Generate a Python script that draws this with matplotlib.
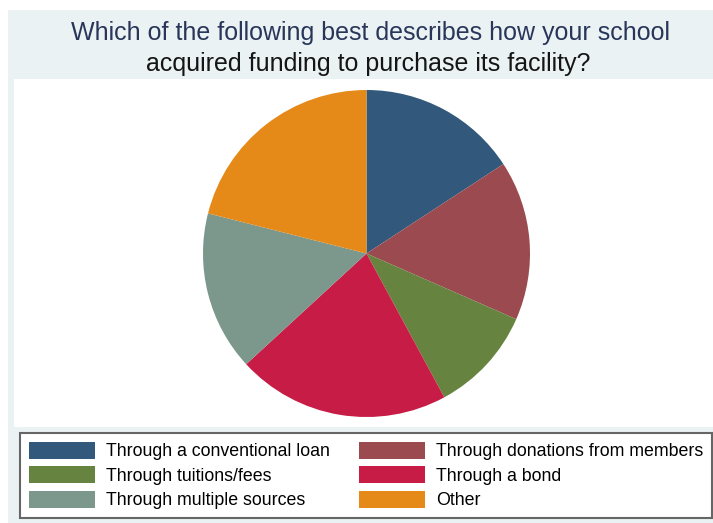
import matplotlib
matplotlib.use('Agg')
import matplotlib.pyplot as plt
from matplotlib.patches import Rectangle

plt.rcParams['font.family'] = ['Liberation Sans', 'DejaVu Sans']

# survey answers (count of schools)
labels = ['Through a conventional loan',
          'Through donations from members',
          'Through tuitions/fees',
          'Through a bond',
          'Through multiple sources',
          'Other']
counts = [3, 3, 2, 4, 3, 4]
colors = ['#32597b', '#9b4a4f', '#66843f', '#c71c45', '#7c978b', '#e58a19']

title1 = 'Which of the following best describes how your school'
title2 = 'acquired funding to purchase its facility?'

W, H = 713, 523
fig = plt.figure(figsize=(W / 100, H / 100), dpi=100, facecolor='white')


def box(x0, y0, x1, y1):
    # pixel box (top-left origin) -> figure fraction
    return x0 / W, 1 - y1 / H, (x1 - x0) / W, (y1 - y0) / H


def rect(x0, y0, x1, y1, **kw):
    l, b, w, h = box(x0, y0, x1, y1)
    fig.patches.append(Rectangle((l, b), w, h, transform=fig.transFigure, **kw))


# graph region and plot region
rect(8, 10, W, H, facecolor='#eaf2f3', edgecolor='none', zorder=0)
rect(14, 79, W, 427, facecolor='white', edgecolor='none', zorder=0)

fig.text(370 / W, 1 - 33 / H, title1, ha='center', va='center',
         fontsize=18, color='#29365a')
fig.text(368 / W, 1 - 64 / H, title2, ha='center', va='center',
         fontsize=18, color='#151515')

cx, cy, r = 366.5, 253.5, 163.5
ax = fig.add_axes(box(cx - r, cy - r, cx + r, cy + r))
ax.set_zorder(2)
wedges, _ = ax.pie(counts, colors=colors, startangle=90, counterclock=False,
                   radius=1, wedgeprops=dict(linewidth=0))
ax.set_xlim(-1, 1)
ax.set_ylim(-1, 1)
ax.axis('off')

# legend filled row by row: 2 columns x 3 rows
order = [0, 2, 4, 1, 3, 5]
lx, ly, lw, lh = box(20, 433, 712, 518)
leg = fig.legend([wedges[i] for i in order], [labels[i] for i in order],
                 ncol=2, loc='upper left',
                 bbox_to_anchor=(lx, ly, lw, lh),
                 mode='expand', borderaxespad=0,
                 fontsize=12.8, handlelength=3.7, handleheight=1.07,
                 handletextpad=0.62, columnspacing=1.4, labelspacing=0.34,
                 borderpad=0.5, fancybox=False, framealpha=1,
                 edgecolor='#666666', facecolor='white')
leg.get_frame().set_linewidth(1.5)
leg.set_zorder(3)

fig.savefig('out.png', dpi=100, facecolor='white')
